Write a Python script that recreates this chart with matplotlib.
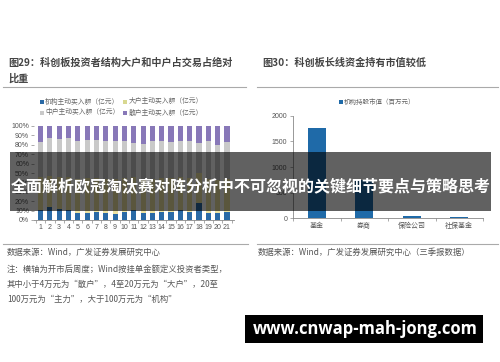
import matplotlib
matplotlib.use("Agg")
import matplotlib.pyplot as plt
import numpy as np
from matplotlib.patches import Rectangle

plt.rcParams['font.family'] = ['Noto Sans CJK SC', 'DejaVu Sans']

W, H = 500, 362

# ---------------- data ----------------
weeks = [str(i) for i in range(1, 22)]
jigou = [11, 14, 12, 11, 7, 7, 8, 7, 6, 8, 11, 7, 7, 8, 9, 11, 9, 18, 7, 7, 8]
dahu = [35, 33, 34, 35, 37, 38, 37, 37, 38, 37, 35, 37, 37, 37, 36, 35, 36, 32, 37, 36, 36]
zhonghu = [37, 40, 40, 41, 40, 40, 40, 40, 40, 39, 36, 37, 40, 39, 38, 38, 39, 32, 40, 37, 39]
sanhu = [17, 13, 14, 13, 16, 15, 15, 16, 16, 16, 18, 19, 16, 16, 17, 16, 16, 18, 16, 20, 17]
series_names = ['机构主动买入额（亿元）', '大户主动买入额（亿元）',
                '中户主动买入额（亿元）', '散户主动买入额（亿元）']
pct_ticks = [0, 10, 20, 30, 40, 50, 60, 70, 80, 90, 100]

holders = ['基金', '券商', '保险公司', '社保基金']
holder_values = [1760, 750, 45, 30]
holder_ticks = [0, 500, 1000, 1500, 2000]

colors4 = ['#2a6aa6', '#ede2a2', '#c9c9c9', '#8878b8']
bar_blue = '#1f6aa8'
text_gray = '#555555'
line_gray = '#aaaaaa'


def fx(x):
    return x / W


def fy(y):
    return 1 - y / H


def rect(x0, ytop, x1, ybot):
    return [fx(x0), fy(ybot), fx(x1) - fx(x0), fy(ytop) - fy(ybot)]


fig = plt.figure(figsize=(W / 100, H / 100), dpi=100)
fig.patch.set_facecolor('white')

# ---------------- titles & separators ----------------
fig.text(fx(8), fy(63), '图29：科创板投资者结构大户和中户占交易占绝对', fontsize=7.3,
         color='#444444', fontweight='bold', va='center', ha='left')
fig.text(fx(8), fy(79), '比重', fontsize=7.3, color='#444444', fontweight='bold',
         va='center', ha='left')
fig.text(fx(262), fy(63), '图30：科创板长线资金持有市值较低', fontsize=7.3,
         color='#444444', fontweight='bold', va='center', ha='left')

for (x0, x1, y) in [(3, 246, 87), (257, 498, 87), (3, 248, 243.5), (257, 498, 243.5)]:
    fig.add_artist(plt.Line2D([fx(x0), fx(x1)], [fy(y), fy(y)], color=line_gray, lw=0.8))

# ---------------- left chart ----------------
axL = fig.add_axes(rect(34, 126, 233.5, 220))
x = np.arange(len(weeks))
data = np.array([jigou, dahu, zhonghu, sanhu], dtype=float)
shares = data / data.sum(axis=0) * 100
bottom = np.zeros(len(weeks))
for i in range(4):
    axL.bar(x, shares[i], bottom=bottom, width=0.55, color=colors4[i], linewidth=0)
    bottom += shares[i]
axL.set_xlim(-0.7, len(weeks) - 0.3)
axL.set_ylim(0, 100)
axL.set_yticks(pct_ticks)
axL.set_yticklabels([f'{t}%' for t in pct_ticks], fontsize=5, color=text_gray,
                    family=['Liberation Sans', 'DejaVu Sans'])
axL.set_xticks(x)
axL.set_xticklabels(weeks, fontsize=5, color=text_gray, family=['Liberation Sans', 'DejaVu Sans'])
axL.tick_params(axis='x', length=0, pad=3)
axL.set_xticks(np.arange(-0.5, len(weeks), 1), minor=True)
axL.tick_params(axis='x', which='minor', length=2, color='#888888', width=0.5)
axL.tick_params(axis='y', length=2, color='#888888', width=0.5, pad=1.5)
for s in ['top', 'right']:
    axL.spines[s].set_visible(False)
axL.spines['left'].set_visible(False)
axL.spines['bottom'].set_color('#888888')
axL.spines['bottom'].set_linewidth(0.6)

# legend (manual positions)
leg_pos = [(41.5, 101.5), (125, 101.5), (41.5, 112.5), (125, 112.5)]
for i, (lx, ly) in enumerate(leg_pos):
    fig.add_artist(Rectangle((fx(lx - 2), fy(ly + 2)), fx(4), fy(0) - fy(4),
                             color=colors4[i] if i != 1 else '#d8d890', lw=0))
    fig.text(fx(lx + 3.5), fy(ly), series_names[i], fontsize=4.9, color='#666666',
             va='center', ha='left')

# ---------------- right chart ----------------
axR = fig.add_axes(rect(293, 115.7, 483, 218.3))
xr = np.arange(len(holders))
axR.bar(xr, holder_values, width=0.38, color=bar_blue, linewidth=0)
axR.set_xlim(-0.5, len(holders) - 0.5)
axR.set_ylim(0, 2000)
axR.set_yticks(holder_ticks)
axR.set_yticklabels([str(t) for t in holder_ticks], fontsize=5, color=text_gray,
                    family=['Liberation Sans', 'DejaVu Sans'])
axR.set_xticks(xr)
axR.set_xticklabels(holders, fontsize=5, color=text_gray)
axR.tick_params(axis='x', length=0, pad=3)
axR.set_xticks(np.arange(-0.5, len(holders), 1), minor=True)
axR.tick_params(axis='x', which='minor', length=2, color='#888888', width=0.5)
axR.tick_params(axis='y', length=2, color='#888888', width=0.5, pad=2)
for s in ['top', 'right']:
    axR.spines[s].set_visible(False)
for s in ['left', 'bottom']:
    axR.spines[s].set_color('#888888')
    axR.spines[s].set_linewidth(0.6)

fig.add_artist(Rectangle((fx(339), fy(103.5)), fx(3.5), fy(0) - fy(3.5), color=bar_blue, lw=0))
fig.text(fx(344), fy(101.7), '机构持股市值（百万元）', fontsize=4.7, color='#666666',
         va='center', ha='left')

# ---------------- notes ----------------
fig.text(fx(7), fy(252.5), '数据来源：Wind，广发证券发展研究中心', fontsize=6, color=text_gray,
         va='center', ha='left')
fig.text(fx(7), fy(269), '注：横轴为开市后周度；Wind按挂单金额定义投资者类型，', fontsize=6,
         color=text_gray, va='center', ha='left')
fig.text(fx(7), fy(284), '其中小于4万元为“散户”，4至20万元为“大户”，20至', fontsize=6,
         color=text_gray, va='center', ha='left')
fig.text(fx(7), fy(299), '100万元为“主力”，大于100万元为“机构”', fontsize=6,
         color=text_gray, va='center', ha='left')
fig.text(fx(258), fy(252.5), '数据来源：Wind，广发证券发展研究中心（三季报数据）', fontsize=6,
         color=text_gray, va='center', ha='left')

# ---------------- overlay banner ----------------
fig.add_artist(Rectangle((fx(10), fy(211)), fx(481), fy(152) - fy(211),
                         facecolor='black', alpha=0.62, lw=0))
fig.text(fx(250.5), fy(186), '全面解析欧冠淘汰赛对阵分析中不可忽视的关键细节要点与策略思考',
         fontsize=11.5, color='white', fontweight='bold', va='center', ha='center')

# ---------------- url box ----------------
fig.add_artist(Rectangle((fx(245), fy(343)), fx(238), fy(315) - fy(343),
                         facecolor='black', lw=0))
fig.text(fx(365), fy(329), 'www.cnwap-mah-jong.com', fontsize=12, color='white',
         fontweight='bold', va='center', ha='center', family=['Open Sans', 'DejaVu Sans'])

fig.savefig('out.png', dpi=100, facecolor='white')
